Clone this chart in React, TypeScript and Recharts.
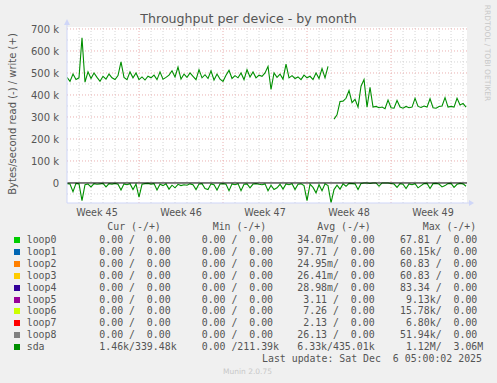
import React from 'react';
import { ComposedChart, Line, XAxis, YAxis, ReferenceLine, CartesianGrid } from 'recharts';

// sda throughput, in k bytes/s, one sample every 6 hours
const writeK = [
  480, 462, 495, 470, 478, 660, 458, 505, 475, 500, 480, 462, 485, 472, 495, 478, 470, 488, 550, 480,
  470, 505, 478, 500, 470, 482, 468, 485, 478, 490, 470, 505, 472, 480, 490, 510, 482, 527, 472, 495,
  480, 500, 485, 470, 515, 478, 492, 475, 510, 468, 495, 472, 462, 490, 512, 475, 488, 478, 500, 470,
  515, 482, 505, 478, 490, 485, 500, 530, 425, 500, 480, 495, 472, 540, 478, 488, 475, 482, 470, 490,
  478, 485, 470, 500, 475, 520, 478, 530, null, 290, 310, 370, 372, 385, 420, 365, 380, 345, 440, 470,
  345, 435, 345, 348, 342, 345, 338, 377, 342, 340, 375, 345, 340, 348, 342, 345, 385, 348, 343, 350,
  345, 383, 342, 340, 348, 350, 388, 345, 348, 345, 385, 355, 362, 345,
];
const readK = [
  -3, -5, -40, -2, -4, -80, -8, -5, -18, -3, -6, -4, -2, -18, -3, -5, -2, -6, -32, -4,
  -8, -3, -30, -5, -64, -6, -3, -2, -5, -3, -32, -6, -12, -4, -28, -10, -22, -6, -12, -8,
  -10, -4, -8, -30, -5, -3, -25, -30, -4, -8, -32, -5, -3, -6, -35, -4, -8, -3, -35, -6,
  -4, -22, -5, -3, -6, -8, -4, -35, -10, -30, -22, -6, -28, -4, -8, -3, -30, -6, -4, -12,
  -80, -5, -20, -45, -8, -35, -4, -12, -90, -30, -10, -28, -4, -15, -2, -3, -4, -30, -2, 0,
  0, -2, 0, 0, -15, 0, 0, 0, -2, -5, -20, -3, -6, -25, -4, -8, -3, -22, -12, -3,
  -2, -25, -3, -2, -5, -18, -12, -3, -2, -20, -6, -2, -4, -15,
];
const stepDays = 0.25;

const weekTicks = [2.5, 9.5, 16.5, 23.5, 30.5];
const weekLabels = ['Week 45', 'Week 46', 'Week 47', 'Week 48', 'Week 49'];
const weekBounds = [6, 13, 20, 27];
const dayLines = [1, 2, 3, 4, 5, 7, 8, 9, 10, 11, 12, 14, 15, 16, 17, 18, 19, 21, 22, 23, 24, 25, 26, 28, 29, 30, 31, 32, 33];
const yTicks = [0, 100, 200, 300, 400, 500, 600, 700];
const yMinor = [-50, 50, 150, 250, 350, 450, 550, 650];

const devices = ['loop0', 'loop1', 'loop2', 'loop3', 'loop4', 'loop5', 'loop6', 'loop7', 'loop8', 'sda'];
const deviceColors = ['#00cc00', '#0066b3', '#ff8000', '#ffcc00', '#330099', '#990099', '#ccff00', '#ff0000', '#808080', '#008f00'];
const curVals = ['0.00 /  0.00', '0.00 /  0.00', '0.00 /  0.00', '0.00 /  0.00', '0.00 /  0.00', '0.00 /  0.00', '0.00 /  0.00', '0.00 /  0.00', '0.00 /  0.00', '1.46k/339.48k'];
const minVals = ['0.00 /  0.00', '0.00 /  0.00', '0.00 /  0.00', '0.00 /  0.00', '0.00 /  0.00', '0.00 /  0.00', '0.00 /  0.00', '0.00 /  0.00', '0.00 /  0.00', '0.00 /211.39k'];
const avgVals = ['34.07m/  0.00', '97.71 /  0.00', '24.95m/  0.00', '26.41m/  0.00', '28.98m/  0.00', ' 3.11 /  0.00', ' 7.26 /  0.00', ' 2.13 /  0.00', '26.13 /  0.00', '6.33k/435.01k'];
const maxVals = ['67.81 /  0.00', '60.15k/  0.00', '60.83 /  0.00', '60.83 /  0.00', '83.34 /  0.00', ' 9.13k/  0.00', '15.78k/  0.00', ' 6.80k/  0.00', '51.94k/  0.00', ' 1.12M/  3.06M'];

const data = writeK.map((w, i) => ({ t: i * stepDays, write: w, read: readK[i] }));

const mono: React.CSSProperties = {
  position: 'absolute',
  fontFamily: '"DejaVu Sans Mono", monospace',
  fontSize: 9.9,
  lineHeight: '12px',
  height: 12,
  color: '#555',
  whiteSpace: 'pre',
};

const gridMinor = '#d4d4d4';
const gridMajor = '#eab0b0';
const axisColor = '#cfd6f8';

export default function App() {
  return (
    <div style={{ position: 'fixed', top: 0, left: 0, width: 497, height: 383, background: '#f0f0f0', overflow: 'hidden', fontFamily: '"DejaVu Sans", sans-serif' }}>
      <div style={{ position: 'absolute', top: 11, left: 0, width: 497, textAlign: 'center', fontSize: 12.6, color: '#555' }}>
        Throughput per device - by month
      </div>
      <div style={{ position: 'absolute', left: 12, top: 114, transform: 'translate(-50%, -50%) rotate(-90deg)', fontSize: 10, color: '#555', whiteSpace: 'nowrap' }}>
        Bytes/second read (-) / write (+)
      </div>
      <div style={{ position: 'absolute', left: 487, top: 53, transform: 'translate(-50%, -50%) rotate(90deg)', fontSize: 7.5, color: '#c8c8c8', whiteSpace: 'nowrap' }}>
        RRDTOOL / TOBI OETIKER
      </div>

      <div style={{ position: 'absolute', top: 0, left: 0 }}>
        <ComposedChart width={497} height={223} data={data} margin={{ top: 27, right: 30, bottom: 0, left: 0 }}>
          <CartesianGrid fill="#ffffff" stroke="none" horizontal={false} vertical={false} />
          {yMinor.map((v) => (
            <ReferenceLine key={'hm' + v} y={v} stroke={gridMinor} strokeDasharray="1 2" />
          ))}
          {dayLines.map((d) => (
            <ReferenceLine key={'vm' + d} x={d} stroke={gridMinor} strokeDasharray="1 2" />
          ))}
          {yTicks.slice(1).map((v) => (
            <ReferenceLine key={'hM' + v} y={v} stroke={gridMajor} strokeDasharray="1 2" />
          ))}
          {weekBounds.map((d) => (
            <ReferenceLine key={'vM' + d} x={d} stroke={gridMajor} strokeDasharray="1 2" />
          ))}
          <XAxis
            dataKey="t"
            type="number"
            domain={[0, 33.33]}
            allowDataOverflow
            ticks={weekTicks}
            tickFormatter={(v: number) => weekLabels[weekTicks.indexOf(v)]}
            tickLine={false}
            tickSize={0}
            tickMargin={6}
            height={20}
            axisLine={{ stroke: axisColor }}
            tick={{ fill: '#555', fontSize: 9.6, fontFamily: '"DejaVu Sans", sans-serif' }}
          />
          <YAxis
            type="number"
            domain={[-91, 709]}
            allowDataOverflow
            ticks={yTicks}
            interval={0}
            tickFormatter={(v: number) => (v === 0 ? '0' : `${v} k`)}
            tickLine={false}
            tickSize={0}
            tickMargin={8}
            width={67}
            axisLine={{ stroke: axisColor }}
            tick={{ fill: '#555', fontSize: 10, fontFamily: '"DejaVu Sans", sans-serif' }}
          />
          <Line type="linear" dataKey="read" stroke="#008f00" strokeWidth={1.1} dot={false} isAnimationActive={false} />
          <Line type="linear" dataKey="write" stroke="#008f00" strokeWidth={1.1} dot={false} isAnimationActive={false} connectNulls={false} />
          <ReferenceLine y={0} stroke="#000000" strokeWidth={1} />
        </ComposedChart>
      </div>

      <svg style={{ position: 'absolute', top: 0, left: 0 }} width={497} height={223}>
        <line x1={67} y1={22} x2={67} y2={27} stroke={axisColor} />
        <polygon points="64,25 70,25 67,19" fill={axisColor} />
        <line x1={467} y1={203} x2={470} y2={203} stroke={axisColor} />
        <polygon points="469,200 469,206 474,203" fill={axisColor} />
      </svg>

      <div style={{ ...mono, top: 221, left: 107.3 }}>Cur (-/+)</div>
      <div style={{ ...mono, top: 221, left: 212.7 }}>Min (-/+)</div>
      <div style={{ ...mono, top: 221, left: 317.3 }}>Avg (-/+)</div>
      <div style={{ ...mono, top: 221, left: 422.7 }}>Max (-/+)</div>

      {devices.map((d, i) => {
        const top = 234 + i * 11.9;
        return (
          <React.Fragment key={d}>
            <div style={{ position: 'absolute', top: top + 3, left: 14, width: 6, height: 6, background: deviceColors[i] }} />
            <div style={{ ...mono, top, left: 26.7 }}>{d}</div>
            <div style={{ ...mono, top, left: 99.3 }}>{curVals[i]}</div>
            <div style={{ ...mono, top, left: 201.7 }}>{minVals[i]}</div>
            <div style={{ ...mono, top, left: 297.3 }}>{avgVals[i]}</div>
            <div style={{ ...mono, top, left: 400 }}>{maxVals[i]}</div>
          </React.Fragment>
        );
      })}
      <div style={{ ...mono, top: 353.3, left: 262 }}>Last update: Sat Dec  6 05:00:02 2025</div>
      <div style={{ position: 'absolute', top: 367, left: 0, width: 495, textAlign: 'center', fontSize: 7.5, color: '#c8c8c8' }}>Munin 2.0.75</div>
    </div>
  );
}
